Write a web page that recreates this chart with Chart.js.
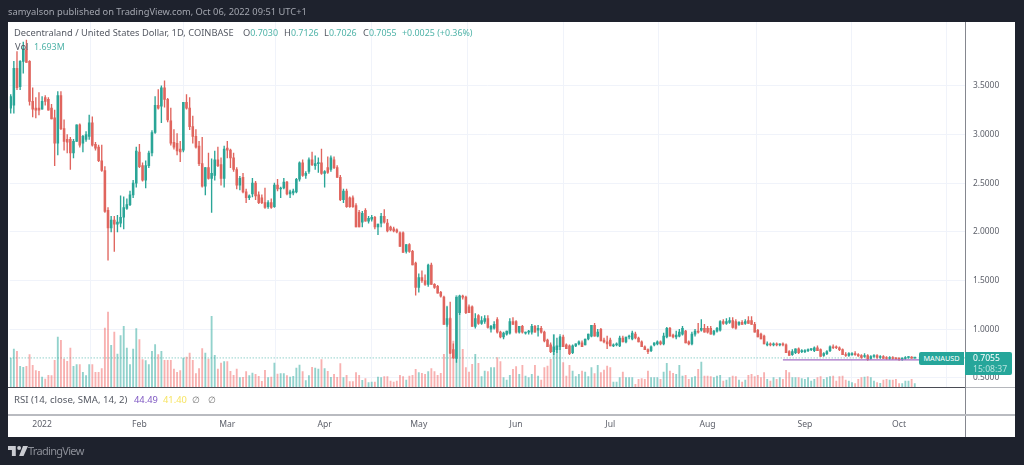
<!DOCTYPE html>
<html>
<head>
<meta charset="utf-8">
<title>MANAUSD</title>
<script src="https://cdn.jsdelivr.net/npm/chart.js@4/dist/chart.umd.min.js"></script>
<style>
html { background: #1e222d; }
html, body { margin: 0; padding: 0; width: 1024px; height: 465px; overflow: hidden; font-family: "Noto Sans", sans-serif; }
body { filter: blur(0.4px); background: #1e222d; }
.abs { position: absolute; white-space: nowrap; }
#frame { left: 8px; top: 22px; width: 1007px; height: 415px; background: #fff; }
#wrap { position: absolute; left: 0; top: 0; width: 1024px; height: 465px; }
#chart { position: absolute; left: 0; top: 0; }
.legend { font-size: 9.3px; color: #555963; line-height: 12px; }
.teal { color: #4fb3a8; font-size: 8.9px; }
</style>
</head>
<body>
<div class="abs" id="frame"></div>
<div id="wrap"><canvas id="chart" width="1024" height="465"></canvas></div>

<!-- pane separators -->
<div class="abs" style="left:965px;top:22px;width:1px;height:415px;background:#85878f"></div>
<div class="abs" style="left:8px;top:387px;width:957px;height:1px;background:#4a4c55"></div>
<div class="abs" style="left:966px;top:387px;width:49px;height:1px;background:#b5b7bc"></div>
<div class="abs" style="left:8px;top:414px;width:1007px;height:2px;background:#b9bbc0"></div>

<!-- header and legends -->
<div class="abs" style="left:8px;top:6px;font-size:9.3px;line-height:12px;color:#a3a6af">samyalson published on TradingView.com, Oct 06, 2022 09:51 UTC+1</div>
<div class="abs legend" style="left:14px;top:27px">Decentraland / United States Dollar, 1D, COINBASE</div>
<div class="abs legend" style="left:243px;top:27px">O<span class="teal">0.7030</span></div>
<div class="abs legend" style="left:284px;top:27px">H<span class="teal">0.7126</span></div>
<div class="abs legend" style="left:324px;top:27px">L<span class="teal">0.7026</span></div>
<div class="abs legend" style="left:363px;top:27px">C<span class="teal">0.7055</span></div>
<div class="abs legend teal" style="left:402px;top:27px">+0.0025 (+0.36%)</div>
<div class="abs legend" style="left:15px;top:41px">Vol</div>
<div class="abs legend teal" style="left:34px;top:41px">1.693M</div>
<div class="abs legend" style="left:14px;top:394px;font-size:9.6px">RSI (14, close, SMA, 14, 2)</div>
<div class="abs legend" style="left:134px;top:394px;color:#7e57c2">44.49</div>
<div class="abs legend" style="left:163px;top:394px;color:#f7e463">41.40</div>
<div class="abs legend" style="left:192px;top:394px;color:#777">∅</div>
<div class="abs legend" style="left:208px;top:394px;color:#777">∅</div>

<!-- last price tags -->
<div class="abs" style="left:919px;top:352px;width:45px;height:13px;background:#26a69a;border-radius:2px 0 0 2px;color:#fff;font-size:7.3px;line-height:13px;text-align:center">MANAUSD</div>
<div class="abs" style="left:965px;top:352px;width:47px;height:23px;background:#26a69a;border-radius:0 2px 2px 0;color:#fff;font-size:8.6px;line-height:11px">
  <div style="padding:1px 0 0 8px">0.7055</div>
  <div style="padding:0 0 0 8px;color:#b6e3de">15:08:37</div>
</div>

<!-- footer -->
<svg class="abs" style="left:8px;top:446px" width="20" height="10" viewBox="0 0 36 18">
  <path fill="#c9cbd1" d="M14 18H7V7H0V0h14zM28 18h-8L27 0h9zM20 0a3.5 3.5 0 1 1 0 7 3.5 3.5 0 0 1 0-7z"/>
</svg>
<div class="abs" style="left:28px;top:443px;font-size:11px;letter-spacing:-0.7px;line-height:16px;color:#8b8e97">TradingView</div>

<script>
// Daily candles, Dec 22 2021 to Oct 6 2022
const opens = [
  3.27,3.30,3.68,3.49,3.75,3.87,3.75,3.34,3.27,3.27,
  3.26,3.38,3.36,3.27,3.17,2.91,3.40,3.06,2.95,2.95,
  2.81,2.93,3.10,2.91,2.95,2.98,3.12,2.90,2.87,2.73,
  2.63,2.22,2.04,2.12,2.08,2.09,2.15,2.24,2.28,2.38,
  2.50,2.82,2.68,2.53,2.68,2.81,3.02,3.30,3.29,3.48,
  3.36,3.14,2.92,2.91,2.85,2.84,3.33,3.27,3.08,2.98,
  2.88,2.70,2.47,2.66,2.55,2.58,2.74,2.69,2.55,2.86,
  2.84,2.76,2.64,2.48,2.56,2.41,2.35,2.39,2.50,2.38,
  2.35,2.30,2.26,2.30,2.26,2.48,2.44,2.45,2.51,2.39,
  2.40,2.41,2.54,2.71,2.58,2.62,2.74,2.68,2.70,2.71,
  2.60,2.66,2.64,2.74,2.66,2.56,2.33,2.42,2.35,2.35,
  2.27,2.20,2.10,2.22,2.11,2.13,2.15,2.05,2.09,2.16,
  2.09,2.05,2.03,2.02,1.99,1.99,1.80,1.87,1.80,1.68,
  1.43,1.53,1.50,1.46,1.66,1.46,1.44,1.38,1.33,1.05,
  1.11,0.79,0.70,1.17,1.34,1.33,1.23,1.23,1.03,1.14,
  1.06,1.08,1.11,1.00,1.01,1.10,0.97,0.92,0.95,0.96,
  1.08,1.08,0.97,1.03,0.96,0.97,0.97,1.03,0.99,1.01,
  0.97,0.89,0.84,0.77,0.79,0.82,0.92,0.84,0.83,0.76,
  0.83,0.85,0.86,0.84,0.90,0.93,1.04,0.93,1.00,0.89,
  0.87,0.89,0.83,0.84,0.83,0.91,0.87,0.92,0.90,0.95,
  0.91,0.87,0.82,0.79,0.78,0.84,0.85,0.87,0.85,0.92,
  1.01,0.94,0.92,0.93,0.95,0.98,0.87,0.85,0.95,0.98,
  0.99,1.01,1.01,1.01,0.95,0.98,0.99,1.08,1.06,1.07,
  1.09,1.08,1.05,1.07,1.06,1.09,1.09,1.05,0.99,0.95,
  0.93,0.84,0.85,0.84,0.85,0.84,0.85,0.84,0.77,0.74,
  0.76,0.80,0.77,0.77,0.78,0.79,0.78,0.81,0.79,0.73,
  0.75,0.78,0.82,0.82,0.81,0.79,0.74,0.73,0.74,0.75,
  0.74,0.73,0.72,0.73,0.70,0.72,0.73,0.71,0.72,0.71,
  0.70,0.71,0.70,0.695,0.69,0.70,0.71,0.71,0.7030
];
const highs = [
  3.41,3.75,3.85,3.76,3.95,3.97,3.76,3.48,3.38,3.43,
  3.39,3.40,3.38,3.31,3.25,3.44,3.44,3.15,3.00,2.97,
  2.95,3.10,3.11,2.99,3.03,3.20,3.18,2.92,2.89,2.89,
  2.67,2.25,2.16,2.16,2.17,2.37,2.36,2.34,2.42,2.53,
  2.87,2.90,2.71,2.73,2.83,3.04,3.39,3.46,3.50,3.55,
  3.37,3.27,3.05,3.01,2.93,3.33,3.41,3.38,3.19,3.05,
  2.93,2.97,2.66,2.81,2.75,2.83,2.87,2.76,2.88,2.93,
  2.85,2.81,2.66,2.57,2.60,2.44,2.38,2.55,2.52,2.41,
  2.38,2.45,2.32,2.34,2.50,2.54,2.46,2.55,2.52,2.43,
  2.44,2.55,2.72,2.74,2.62,2.76,2.82,2.78,2.76,2.85,
  2.63,2.77,2.78,2.77,2.68,2.58,2.44,2.44,2.36,2.37,
  2.29,2.22,2.21,2.24,2.16,2.17,2.16,2.08,2.19,2.23,
  2.13,2.06,2.05,2.03,2.00,2.00,1.87,1.88,1.81,1.69,
  1.57,1.60,1.56,1.67,1.68,1.47,1.45,1.39,1.34,1.23,
  1.28,0.85,1.33,1.35,1.35,1.34,1.25,1.24,1.16,1.15,
  1.13,1.14,1.14,1.04,1.08,1.12,0.98,0.97,0.98,1.11,
  1.12,1.09,1.03,1.04,0.97,0.99,1.05,1.04,1.04,1.03,
  0.98,0.90,0.86,0.94,0.91,0.93,0.94,0.85,0.84,0.84,
  0.85,0.88,0.88,0.90,0.95,1.04,1.06,1.00,1.01,0.91,
  0.93,0.91,0.85,0.86,0.93,0.93,0.92,0.94,0.98,0.97,
  0.92,0.88,0.83,0.80,0.83,0.86,0.88,0.88,0.96,1.02,
  1.02,0.95,0.98,1.00,1.03,0.99,0.88,0.97,1.00,1.06,
  1.10,1.05,1.03,1.03,0.99,1.02,1.09,1.10,1.11,1.12,
  1.12,1.10,1.08,1.09,1.10,1.13,1.13,1.07,1.00,0.96,
  0.94,0.87,0.86,0.86,0.86,0.85,0.86,0.85,0.78,0.79,
  0.80,0.81,0.79,0.79,0.80,0.80,0.82,0.83,0.80,0.76,
  0.78,0.83,0.84,0.83,0.82,0.80,0.76,0.76,0.76,0.77,
  0.75,0.74,0.75,0.74,0.73,0.74,0.74,0.73,0.73,0.72,
  0.72,0.72,0.71,0.71,0.71,0.72,0.72,0.72,0.7126
];
const lows = [
  3.22,3.22,3.46,3.46,3.63,3.74,3.30,3.18,3.17,3.20,
  3.26,3.30,3.25,3.16,2.68,2.79,3.05,2.84,2.81,2.64,
  2.76,2.93,2.87,2.82,2.93,2.95,2.88,2.84,2.72,2.62,
  2.20,1.71,2.00,1.80,2.00,2.05,2.03,2.23,2.27,2.35,
  2.46,2.66,2.52,2.45,2.66,2.78,3.01,3.26,3.12,3.28,
  3.13,2.89,2.85,2.79,2.72,2.82,3.26,3.05,2.91,2.86,
  2.68,2.46,2.38,2.54,2.20,2.53,2.67,2.48,2.46,2.76,
  2.66,2.62,2.44,2.43,2.40,2.30,2.33,2.36,2.33,2.29,
  2.29,2.24,2.24,2.24,2.25,2.42,2.35,2.44,2.38,2.35,
  2.38,2.40,2.52,2.57,2.55,2.60,2.68,2.64,2.61,2.59,
  2.46,2.60,2.62,2.65,2.56,2.32,2.30,2.25,2.25,2.25,
  2.05,2.05,2.05,2.11,2.09,2.11,2.03,1.97,2.05,2.09,
  2.00,2.01,2.00,1.99,1.85,1.79,1.78,1.79,1.66,1.35,
  1.38,1.48,1.45,1.44,1.46,1.42,1.37,1.33,1.05,1.03,
  0.75,0.70,0.66,1.15,1.31,1.16,1.17,1.03,1.01,1.05,
  1.05,1.06,1.01,0.97,1.00,0.96,0.91,0.90,0.94,0.95,
  1.05,0.96,0.96,0.96,0.95,0.95,0.95,0.97,0.93,0.96,
  0.87,0.82,0.76,0.74,0.76,0.79,0.82,0.80,0.74,0.75,
  0.82,0.84,0.82,0.84,0.89,0.92,0.93,0.92,0.88,0.86,
  0.80,0.83,0.82,0.83,0.82,0.87,0.86,0.90,0.89,0.90,
  0.87,0.82,0.79,0.75,0.77,0.83,0.84,0.84,0.84,0.91,
  0.93,0.91,0.90,0.92,0.94,0.86,0.84,0.84,0.93,0.96,
  0.98,0.97,0.96,0.95,0.94,0.97,0.98,1.05,1.05,1.06,
  1.01,1.00,1.04,1.05,1.05,1.06,1.05,0.97,0.92,0.90,
  0.85,0.83,0.83,0.83,0.83,0.83,0.83,0.76,0.73,0.73,
  0.75,0.75,0.76,0.76,0.77,0.78,0.77,0.78,0.72,0.72,
  0.74,0.77,0.80,0.80,0.78,0.74,0.72,0.72,0.73,0.73,
  0.72,0.70,0.71,0.68,0.69,0.71,0.70,0.70,0.70,0.69,
  0.69,0.69,0.69,0.68,0.68,0.69,0.70,0.70,0.7026
];
const closes = [
  3.39,3.68,3.48,3.75,3.88,3.74,3.34,3.26,3.25,3.25,
  3.34,3.34,3.25,3.16,2.91,3.40,3.06,2.93,2.92,2.81,
  2.93,3.10,2.89,2.98,3.00,3.12,2.89,2.86,2.73,2.63,
  2.21,2.04,2.12,2.08,2.10,2.15,2.25,2.28,2.38,2.50,
  2.83,2.67,2.53,2.68,2.81,3.02,3.30,3.27,3.48,3.36,
  3.15,2.91,2.87,2.83,2.82,3.33,3.27,3.08,2.98,2.87,
  2.70,2.47,2.66,2.55,2.60,2.74,2.68,2.55,2.85,2.84,
  2.76,2.64,2.48,2.55,2.41,2.35,2.37,2.50,2.37,2.30,
  2.30,2.25,2.30,2.25,2.48,2.44,2.45,2.51,2.39,2.41,
  2.42,2.54,2.71,2.58,2.60,2.74,2.69,2.70,2.71,2.60,
  2.62,2.61,2.76,2.66,2.56,2.33,2.42,2.26,2.26,2.26,
  2.05,2.05,2.19,2.11,2.14,2.15,2.05,2.08,2.16,2.10,
  2.01,2.02,2.01,2.00,1.85,1.79,1.87,1.80,1.66,1.43,
  1.53,1.50,1.46,1.66,1.46,1.43,1.37,1.34,1.05,1.11,
  0.755,0.705,1.33,1.34,1.33,1.17,1.17,1.03,1.11,1.06,
  1.09,1.11,1.02,1.03,1.05,0.97,0.92,0.96,0.98,1.08,
  1.05,0.97,1.03,0.97,0.97,0.98,1.03,0.97,1.01,0.97,
  0.88,0.82,0.77,0.82,0.83,0.92,0.82,0.80,0.75,0.83,
  0.85,0.87,0.82,0.90,0.95,1.04,0.93,0.97,0.88,0.87,
  0.85,0.83,0.84,0.85,0.91,0.87,0.92,0.93,0.96,0.91,
  0.87,0.82,0.79,0.77,0.82,0.86,0.87,0.85,0.93,1.01,
  0.93,0.92,0.94,0.97,1.01,0.86,0.85,0.95,0.98,0.97,
  1.01,0.97,0.97,0.95,0.98,1.01,1.08,1.06,1.08,1.09,
  1.02,1.01,1.07,1.05,1.08,1.06,1.05,0.97,0.92,0.90,
  0.85,0.85,0.84,0.85,0.84,0.85,0.84,0.76,0.73,0.77,
  0.80,0.76,0.78,0.78,0.79,0.79,0.81,0.78,0.72,0.75,
  0.77,0.82,0.81,0.81,0.79,0.74,0.73,0.75,0.75,0.74,
  0.725,0.71,0.73,0.69,0.72,0.73,0.71,0.72,0.70,0.70,
  0.71,0.70,0.695,0.69,0.70,0.71,0.715,0.703,0.7055
];
// Volume in millions
const volumes = [
  14.5,19,17.8,10.3,9.8,10.3,16.2,10.8,8.2,7.8,
  5,4,5.8,5.7,13.3,25,23.3,14,12.8,19.5,
  10.3,11.2,11.2,7.3,5.7,11.2,11.2,7.3,7.3,9.2,
  29.5,37.5,20.8,27.5,16.5,25.7,30.3,19.5,11.2,19,
  29.2,23.7,13.7,13.2,11.2,17.8,21.2,16.2,17.8,13.3,
  13.3,13.3,9,7.3,8.2,14.5,15,17,13.3,6.7,
  9.2,19.2,17,14,35.3,15.8,9,12,12.7,12.7,
  7.8,5.8,9,4.7,4.8,7.7,5.7,7,6.3,5.3,
  2.8,8.3,4.7,5,12,6.5,6.7,6.7,5.7,5,
  5.3,9.5,11,7.7,3.2,5.7,9.8,9.5,9,13.7,
  9.2,7.8,4.8,6.3,4.8,11.7,4.7,5.8,2.7,2.7,
  7.2,5.8,3.3,4.2,2.2,2.5,2.5,5,4.7,5.2,
  5.2,3,2.5,3,5.8,5.2,3.5,5.5,5.8,8.8,
  7.2,6.8,6.3,7.7,9.2,7.7,5.8,6.8,16.3,40.5,
  34.7,23,45.8,45.8,18.8,9.7,7.5,11.3,16.3,11.8,
  5.2,8,7.7,9.7,9.7,14.7,12.7,4.7,3.5,5.8,
  8.8,10.2,6.3,10.8,5.5,4.7,6.3,10.8,5.5,3.5,
  9.7,10.5,13.8,26.3,19.2,26.3,12.2,5.5,10.8,8,
  5.2,6.3,8,7.5,5.2,9.7,6.7,10.8,7.2,8.5,
  10.5,9.7,2.5,2.5,4.7,7.5,4.7,4.7,4.7,1.3,
  3.8,4.2,3.8,8,4.7,4.7,4.7,3.8,7.5,11.8,
  8,6.8,6.3,10.8,5.5,5.8,3.8,4.7,5.2,8.8,
  12.5,5.5,5.5,5.2,4.7,5.5,5.8,3,3.5,4.7,
  5.5,5.2,3.5,2.5,3.5,5.8,6.3,5.2,5.8,4.7,
  7.2,3.8,3,4.7,3.8,4.7,3.8,8.3,7.2,4.7,
  4.7,4.7,4.2,3.8,4.7,3,3.8,4.7,5.2,3.8,
  4.7,5.2,5.5,3,5.2,5.5,3.5,3,2.2,1.7,
  3.8,4.7,5,5.2,4.7,3,2.2,1.8,3.5,3.8,
  3.5,3.5,3.8,1.7,1.7,3,3,3.8,1.693
];

// x is days since Jan 1 2022; the first candle sits ten days before that
const firstDay = -10;
const dayMin = -10.33;
const dayMax = 294;
const monthDays = [0, 31, 59, 90, 120, 151, 181, 212, 243, 273];
const monthLabels = ['2022', 'Feb', 'Mar', 'Apr', 'May', 'Jun', 'Jul', 'Aug', 'Sep', 'Oct'];
const priceTicks = [0.5, 1, 1.5, 2, 2.5, 3, 3.5];
const lastPrice = 0.7055;
const supportLevel = 0.685;
const supportDays = [236, 280];

const UP = '#2aa597';
const DOWN = '#e0655e';
const UP_VOL = 'rgba(38,166,154,0.5)';
const DOWN_VOL = 'rgba(239,83,80,0.45)';
const GRID = '#f0f3fa';
const AXIS_TEXT = '#5c5f69';

const days = closes.map((c, i) => firstDay + i);
const isUp = closes.map((c, i) => c >= opens[i]);

const bodies = closes.map((c, i) => ({ x: days[i], y: [opens[i], c] }));
const wicks = closes.map((c, i) => ({ x: days[i], y: [lows[i], highs[i]] }));
const volumeBars = volumes.map((v, i) => ({ x: days[i], y: v }));

new Chart(document.getElementById('chart').getContext('2d'), {
    type: 'bar',
    data: {
        datasets: [
            {
                label: 'Last price',
                type: 'line',
                data: [{ x: dayMin, y: lastPrice }, { x: dayMax, y: lastPrice }],
                borderColor: '#5dbcb2',
                borderWidth: 1,
                borderDash: [1, 2],
                pointRadius: 0,
                yAxisID: 'y',
                order: 5
            },
            {
                label: 'Support',
                type: 'line',
                data: [{ x: supportDays[0], y: supportLevel }, { x: supportDays[1], y: supportLevel }],
                borderColor: '#a46fc4',
                borderWidth: 1.3,
                pointRadius: 0,
                yAxisID: 'y',
                order: 0
            },
            {
                label: 'Body',
                data: bodies,
                backgroundColor: isUp.map(u => u ? UP : DOWN),
                barThickness: 1.9,
                minBarLength: 1,
                grouped: false,
                yAxisID: 'y',
                order: 1
            },
            {
                label: 'Wick',
                data: wicks,
                backgroundColor: isUp.map(u => u ? UP : DOWN),
                barThickness: 0.7,
                grouped: false,
                yAxisID: 'y',
                order: 2
            },
            {
                label: 'Volume',
                data: volumeBars,
                backgroundColor: isUp.map(u => u ? UP_VOL : DOWN_VOL),
                barThickness: 1.2,
                grouped: false,
                yAxisID: 'vol',
                order: 3
            }
        ]
    },
    options: {
        responsive: false,
        animation: false,
        events: [],
        layout: { padding: { left: 8, top: 22, right: 9, bottom: 0 } },
        plugins: { legend: { display: false }, tooltip: { enabled: false } },
        scales: {
            x: {
                type: 'linear',
                min: dayMin,
                max: dayMax,
                offset: false,
                border: { display: false },
                grid: { color: GRID, drawTicks: false },
                afterBuildTicks: scale => { scale.ticks = monthDays.map(v => ({ value: v })); },
                afterFit: scale => { scale.height = 78; },
                ticks: {
                    autoSkip: false,
                    maxRotation: 0,
                    padding: 32,
                    color: AXIS_TEXT,
                    font: { family: '"Noto Sans", sans-serif', size: 8.6 },
                    callback: value => monthLabels[monthDays.indexOf(value)]
                }
            },
            y: {
                type: 'linear',
                position: 'right',
                min: 0.407,
                max: 4.155,
                border: { display: false },
                grid: { color: GRID, drawTicks: false },
                afterBuildTicks: scale => { scale.ticks = priceTicks.map(v => ({ value: v })); },
                afterFit: scale => { scale.width = 50; },
                ticks: {
                    padding: 8,
                    color: AXIS_TEXT,
                    font: { family: '"Noto Sans", sans-serif', size: 8.4 },
                    callback: value => value.toFixed(4)
                }
            },
            vol: {
                type: 'linear',
                display: false,
                min: 0,
                max: 182.5
            }
        }
    }
});
</script>
</body>
</html>
